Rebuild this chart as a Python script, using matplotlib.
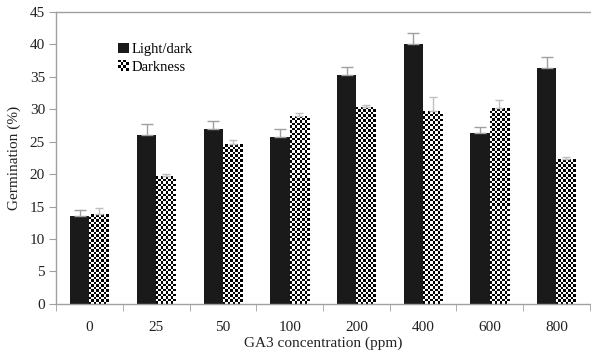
import numpy as np
import matplotlib
matplotlib.use("Agg")
import matplotlib.pyplot as plt
from matplotlib.patches import Rectangle
from matplotlib.legend_handler import HandlerBase

plt.rcParams["font.family"] = ["Liberation Serif", "DejaVu Serif"]

# ── data ───────────────────────────────────────────────────────────────────
concentrations = ["0", "25", "50", "100", "200", "400", "600", "800"]
light_dark     = [13.5, 26.0, 27.0, 25.7, 35.3, 40.1, 26.4, 36.4]
light_dark_err = [0.9, 1.7, 1.2, 1.3, 1.2, 1.6, 0.9, 1.6]
darkness       = [13.8, 19.7, 24.6, 29.0, 30.3, 29.7, 30.2, 22.3]
darkness_err   = [0.9, 0.3, 0.7, 0.4, 0.4, 2.2, 1.2, 0.4]

GRAY = "#a0a0a0"
TXT = "#222222"


def checker(nr, nc):
    r, c = np.indices((nr, nc))
    return ((r + c) % 2).astype(float)


class HandlerChecker(HandlerBase):
    """Legend key drawn as a small checkerboard."""
    def create_artists(self, legend, orig_handle, xd, yd, w, h, fontsize, trans):
        n = 4
        s = h / n
        arts = []
        x0 = xd + (w - h) / 2
        for i in range(n):
            for j in range(n):
                fc = "black" if (i + j) % 2 else "white"
                arts.append(Rectangle((x0 + j * s, yd + i * s), s, s,
                                      facecolor=fc, edgecolor="none",
                                      transform=trans))
        return arts


fig = plt.figure(figsize=(5.91, 3.60), dpi=100)
ax = fig.add_axes([0.095, 0.156, 0.903, 0.811])

x = np.arange(len(concentrations))
w = 0.29

b1 = ax.bar(x - w / 2, light_dark, w, color="#1a1a1a", zorder=2,
            label="Light/dark")
ax.errorbar(x - w / 2, light_dark, yerr=[np.zeros(len(x)), light_dark_err],
            fmt="none", ecolor=GRAY, elinewidth=1, capsize=4, capthick=1,
            zorder=3)

# checkerboard bars: bar outline as clip path, filled with a pixel pattern
b2 = ax.bar(x + w / 2, darkness, w, color="none", edgecolor="none", zorder=2,
            label="Darkness")
cell_y = 45 / 292 * 2.5   # ~2.5 px tall squares
for rect, val in zip(b2.patches, darkness):
    nr = max(1, int(round(val / cell_y)))
    im = ax.imshow(checker(nr, 8), cmap="gray", interpolation="nearest",
                   extent=(rect.get_x(), rect.get_x() + w, 0, val),
                   origin="lower", aspect="auto", zorder=2)
    im.set_clip_path(rect)
ax.errorbar(x + w / 2, darkness, yerr=[np.zeros(len(x)), darkness_err],
            fmt="none", ecolor="#c0c0c0", elinewidth=1, capsize=3, capthick=1,
            zorder=3)

ax.set_xlim(-0.5, len(x) - 0.5)
ax.set_ylim(0, 45)
ax.set_yticks(np.arange(0, 46, 5))
ax.set_xticks(x)
ax.set_xticklabels(concentrations)
ax.set_xticks(np.arange(-0.5, len(x), 1), minor=True)
ax.tick_params(axis="x", which="major", length=0, pad=12, labelsize=11,
               labelcolor=TXT)
ax.tick_params(axis="x", which="minor", length=5, color=GRAY, direction="out")
ax.tick_params(axis="y", length=5, color=GRAY, labelsize=11, labelcolor=TXT,
               pad=3)

for side in ["left", "bottom", "top"]:
    ax.spines[side].set_color(GRAY)
    ax.spines[side].set_linewidth(1)
ax.spines["right"].set_visible(False)

ax.set_xlabel("GA3 concentration (ppm)", fontsize=11, color=TXT, labelpad=2)
ax.set_ylabel("Germination (%)", fontsize=11, color=TXT, labelpad=6)

ax.legend(handles=[b1, b2], handler_map={b2: HandlerChecker()},
          loc="upper left", bbox_to_anchor=(0.105, 0.915), frameon=False,
          fontsize=10.5, handlelength=0.75, handleheight=0.75,
          handletextpad=0.15, labelspacing=0.3, borderaxespad=0)

fig.savefig("out.png", dpi=100)
